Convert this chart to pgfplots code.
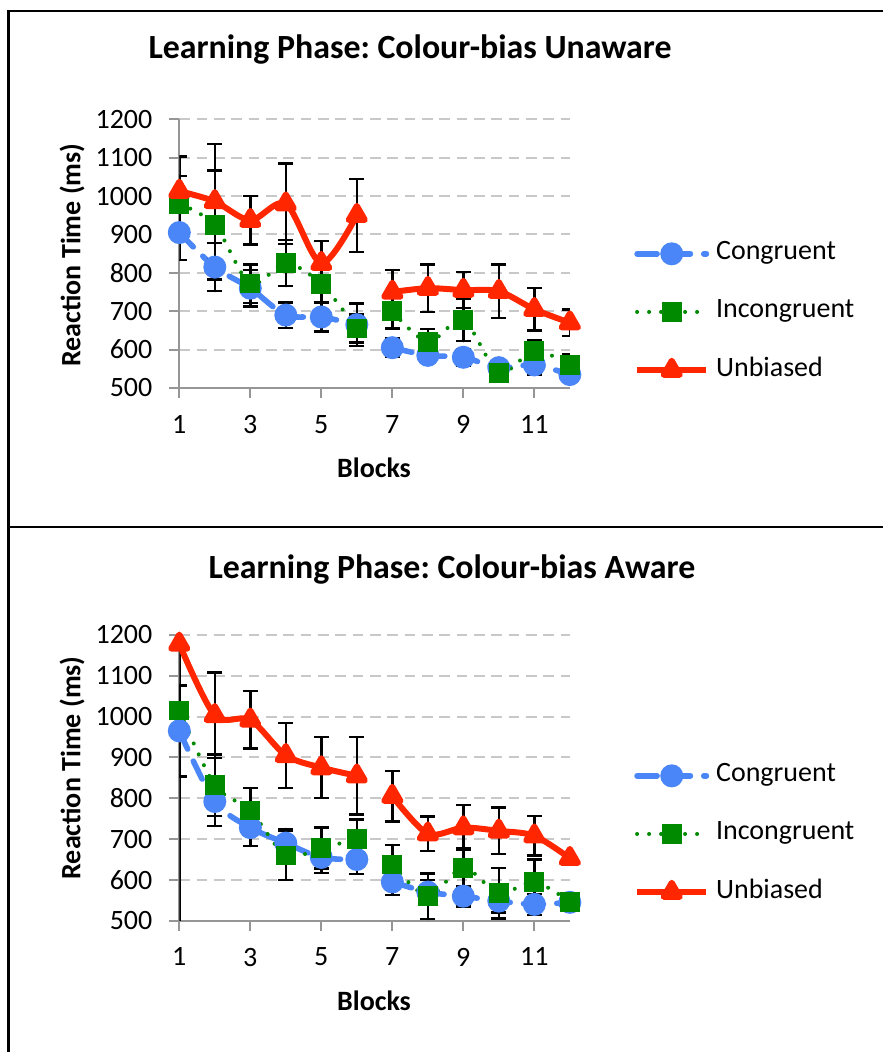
\documentclass[border=0pt]{standalone}
\usepackage{pgfplots}
\pgfplotsset{compat=1.18}
\usepackage{pgfplotstable}
\usepackage{fontspec}
\setmainfont{Carlito}
\frenchspacing

\definecolor{congblue}{RGB}{74,134,247}
\definecolor{incgreen}{RGB}{0,138,0}
\definecolor{unbred}{RGB}{255,38,0}
\definecolor{gridgray}{RGB}{200,200,200}
\definecolor{axisgray}{RGB}{150,150,150}

% Mean reaction times (ms) and error bar half-widths per block.
% The nan row separates blocks 1-6 from blocks 7-12.
\pgfplotstableread{
block C   Ce  I    Ie  U    Ue
1     905 71  980  73  1013 90
2     815 63  925  142 986  150
3     760 48  772  50  937  63
4     690 33  825  60  980  105
5     685 38  771  50  825  58
6     665 55  655  36  950  95
6.5   nan nan nan  nan nan  nan
7     605 25  700  45  750  57
8     585 20  620  33  760  62
9     580 22  677  55  755  47
10    553 20  540  20  752  70
11    560 25  597  27  705  55
12    535 8   560  28  670  35
}\unaware

\pgfplotstableread{
block C   Ce  I    Ie  U    Ue
1     965 112 1015 60  1178 0
2     792 60  832  75  1003 105
3     728 45  770  55  992  70
4     690 35  660  60  905  80
5     655 38  678  50  875  75
6     650 35  700  48  855  95
6.5   nan nan nan  nan nan  nan
7     595 32  638  47  805  62
8     570 30  560  56  713  42
9     560 25  630  48  728  55
10    548 28  567  62  720  57
11    540 26  595  55  708  48
12    545 0   546  0   653  0
}\aware

% Unbiased, aware, block 1: error bar running past both axis limits
\pgfplotstableread{
block U    Up  Um
1     1178 22  678
}\awarefirst

\pgfplotsset{
  rtaxis/.style={
    scale only axis, width=292.9pt,
    xmin=1, xmax=12, ymin=500, ymax=1200,
    axis x line*=bottom, axis y line*=left,
    axis line style={axisgray, line width=1.5pt},
    xtick={1,3,...,11}, ytick={500,600,...,1200},
    tick align=outside, major tick length=7.5pt,
    tick style={axisgray, line width=1.5pt},
    ymajorgrids,
    grid style={gridgray, line width=1.5pt, dash pattern=on 8pt off 5pt},
    unbounded coords=jump,
    /pgf/number format/assume math mode=true,
    /pgf/number format/1000 sep={},
    tick label style={font=\fontsize{21}{25}\selectfont},
    yticklabel style={anchor=east, inner sep=0pt, xshift=-12.5pt},
    xticklabel style={anchor=north, inner sep=0pt, yshift=-12.75pt},
    label style={font=\fontsize{21}{25}\selectfont\bfseries},
    xlabel={Blocks}, ylabel={Reaction Time (ms)},
    xlabel style={at={(axis description cs:0.4986,0)}, anchor=center, yshift=-60pt},
    title style={font=\fontsize{25.4}{30}\selectfont\bfseries, anchor=center},
    legend style={font=\fontsize{21}{25}\selectfont, draw=none, fill=none,
      inner sep=0pt, outer sep=0pt, anchor=west, row sep=26.6pt, column sep=5pt,
      nodes={inner sep=0pt, text height=13pt, text depth=4pt}},
    legend cell align=left,
    legend image code/.code={
      \draw[mark repeat=2, mark phase=2] plot coordinates {(0pt,0pt) (26pt,0pt) (52pt,0pt)};
    },
    error bars/y dir=both, error bars/y explicit,
    error bars/error bar style={black, line width=1.8pt, solid},
    error bars/error mark options={rotate=90, black, line width=1.8pt, mark size=5.6pt},
  },
  congstyle/.style={congblue, line width=4.2pt, line cap=round, smooth,
    dash pattern=on 15pt off 10pt,
    mark=*, mark size=6.5pt, mark options={solid, fill=congblue, draw=none}},
  incstyle/.style={incgreen, line width=3pt, line cap=round, smooth,
    dash pattern=on 0pt off 9pt,
    mark=square*, mark size=5.9pt, mark options={solid, fill=incgreen, draw=none}},
  unbstyle/.style={unbred, line width=4.5pt, line join=round, solid, smooth,
    mark=triangle*, mark size=7pt, mark options={solid, fill=unbred, draw=none}},
}

\begin{document}
\begin{tikzpicture}
\useasboundingbox (0pt,0pt) rectangle (661.5pt,789pt);
% panel frames
\draw[line width=2.2pt] (6.375pt,-6pt) -- (6.375pt,780.75pt) -- (670pt,780.75pt);
\draw[line width=2.2pt] (6.375pt,393.75pt) -- (670pt,393.75pt);

\begin{axis}[rtaxis,
  at={(134.475pt,498pt)}, anchor=south west, height=201.5pt,
  title={Learning Phase: Colour-bias Unaware},
  title style={at={(axis description cs:0.5908,1)}, yshift=46.5pt},
  ylabel style={at={(axis description cs:-0.2748,0.495)}, anchor=center},
  legend style={at={(axis description cs:1.1645,0.283)}},
]
\addplot[congstyle] table[x=block, y=C, y error=Ce]{\unaware};
\addlegendentry{Congruent}
\addplot[incstyle] table[x=block, y=I, y error=Ie]{\unaware};
\addlegendentry{Incongruent}
\addplot[unbstyle] table[x=block, y=U, y error=Ue]{\unaware};
\addlegendentry{Unbiased}
\end{axis}

\begin{axis}[rtaxis,
  at={(134.475pt,98.475pt)}, anchor=south west, height=214.3pt,
  title={Learning Phase: Colour-bias Aware},
  title style={at={(axis description cs:0.698,1)}, yshift=42.75pt},
  ylabel style={at={(axis description cs:-0.2748,0.535)}, anchor=center},
  legend style={at={(axis description cs:1.1645,0.3035)}},
]
\addplot[forget plot, draw=none, no marks, error bars/error mark=none]
  table[x=block, y=U, y error plus=Up, y error minus=Um]{\awarefirst};
\addplot[congstyle] table[x=block, y=C, y error=Ce]{\aware};
\addlegendentry{Congruent}
\addplot[incstyle] table[x=block, y=I, y error=Ie]{\aware};
\addlegendentry{Incongruent}
\addplot[unbstyle] table[x=block, y=U, y error=Ue]{\aware};
\addlegendentry{Unbiased}
\end{axis}
\end{tikzpicture}
\end{document}
